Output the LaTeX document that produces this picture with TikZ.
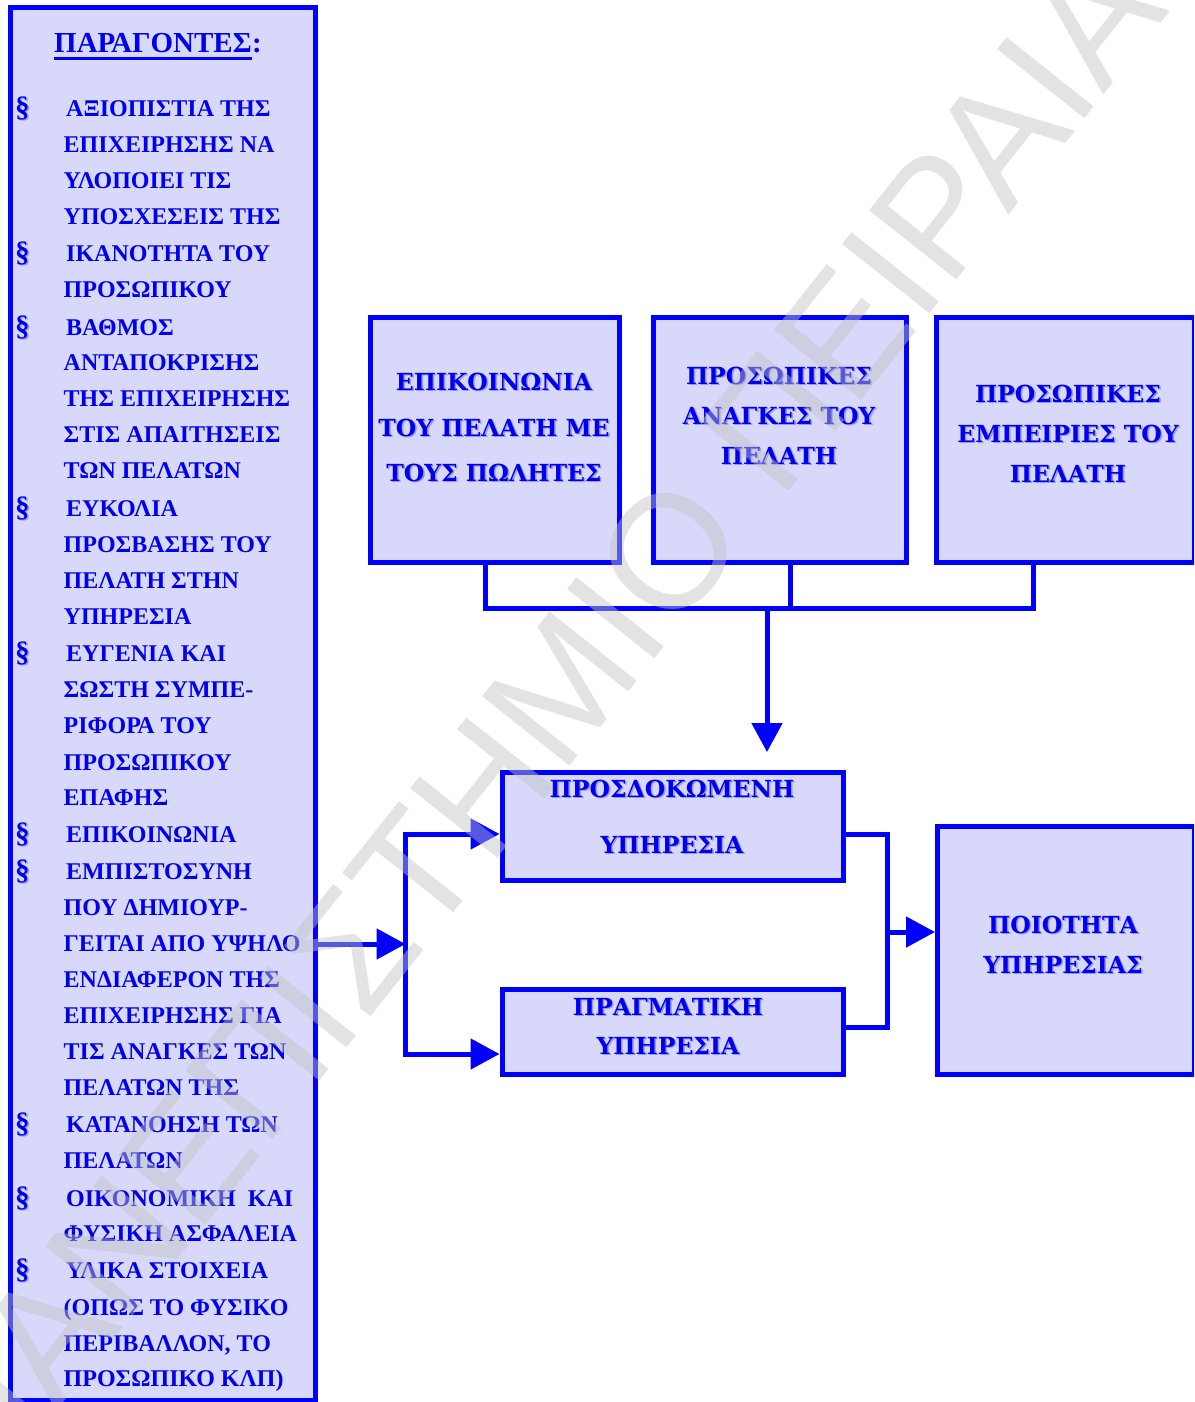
\documentclass[tikz,border=0pt]{standalone}
\usepackage{fontspec}
\setmainfont{Liberation Serif}
\newfontfamily\boxfont{DejaVu Serif}
\newfontfamily\markfont{Liberation Sans}
\usetikzlibrary{arrows.meta,calc}

\definecolor{frameblue}{RGB}{0,0,255}
\definecolor{inkblue}{RGB}{0,0,238}
\definecolor{panelfill}{RGB}{216,216,250}
\definecolor{shadowblue}{RGB}{150,150,255}
\definecolor{markgray}{RGB}{195,195,195}

% one line of box text, with a light offset shadow underneath
\newcommand{\boxline}[4]{%
  \node[boxtxt,text=shadowblue] at ($(#2,#3)+(1.5,1.5)$) {#4};
  \node[boxtxt] (#1) at (#2,#3) {#4};}

\begin{document}
\begin{tikzpicture}[x=1pt,y=-1pt,
  frame/.style={rectangle,draw=frameblue,fill=panelfill,line width=5pt,inner sep=0pt},
  link/.style={draw=frameblue,line width=5pt},
  arr/.style={link,-{Triangle[length=29pt,width=30pt]}},
  item/.style={anchor=base west,inner sep=0pt,text=inkblue,
    font={\fontsize{24}{24}\selectfont\bfseries}},
  bullet/.style={anchor=base west,inner sep=0pt,text=inkblue,
    font={\fontsize{29}{29}\selectfont\bfseries}},
  headline/.style={anchor=base west,inner sep=0pt,text=inkblue,
    font={\fontsize{29}{29}\selectfont\bfseries}},
  boxtxt/.style={anchor=base,inner sep=0pt,text=inkblue,
    font={\fontsize{23.5}{24}\boxfont\bfseries}}]

\useasboundingbox (0,0) rectangle (1194,1402);
\clip (0,0) rectangle (1194,1402);
\fill[white] (0,0) rectangle (1194,1402);

% ---------- factors panel ----------
\node[frame,minimum width=305pt,minimum height=1392.5pt] (panel) at (163,703.75) {};

\node[headline] (title) at (54,53) {ΠΑΡΑΓΟΝΤΕΣ};
\node[headline,anchor=base west] (colon) at (title.base east) {:};
\draw[frameblue,line width=3pt] ($(title.base west)+(0,5.5)$) -- ($(title.base east)+(0,5.5)$);

\foreach \x/\y/\t [count=\i] in {
  66/116.7/ΑΞΙΟΠΙΣΤΙΑ ΤΗΣ,
  63.5/152.7/ΕΠΙΧΕΙΡΗΣΗΣ ΝΑ,
  63.5/188.3/ΥΛΟΠΟΙΕΙ ΤΙΣ,
  63.5/224/ΥΠΟΣΧΕΣΕΙΣ ΤΗΣ,
  66/261.7/ΙΚΑΝΟΤΗΤΑ ΤΟΥ,
  63.5/297.3/ΠΡΟΣΩΠΙΚΟΥ,
  66/335/ΒΑΘΜΟΣ,
  63.5/370.7/ΑΝΤΑΠΟΚΡΙΣΗΣ,
  63.5/406/ΤΗΣ ΕΠΙΧΕΙΡΗΣΗΣ,
  63.5/442.7/ΣΤΙΣ ΑΠΑΙΤΗΣΕΙΣ,
  63.5/478.5/ΤΩΝ ΠΕΛΑΤΩΝ,
  66/516/ΕΥΚΟΛΙΑ,
  63.5/552.7/ΠΡΟΣΒΑΣΗΣ ΤΟΥ,
  63.5/588.3/ΠΕΛΑΤΗ ΣΤΗΝ,
  63.5/624/ΥΠΗΡΕΣΙΑ,
  66/661/ΕΥΓΕΝΙΑ ΚΑΙ,
  63.5/697.3/ΣΩΣΤΗ ΣΥΜΠΕ-,
  63.5/733.3/ΡΙΦΟΡΑ ΤΟΥ,
  63.5/770/ΠΡΟΣΩΠΙΚΟΥ,
  63.5/805.5/ΕΠΑΦΗΣ,
  66/842.7/ΕΠΙΚΟΙΝΩΝΙΑ,
  66/879.3/ΕΜΠΙΣΤΟΣΥΝΗ,
  63.5/915/ΠΟΥ ΔΗΜΙΟΥΡ-,
  63.5/951.7/ΓΕΙΤΑΙ ΑΠΟ ΥΨΗΛΟ,
  63.5/987.3/ΕΝΔΙΑΦΕΡΟΝ ΤΗΣ,
  63.5/1023.3/ΕΠΙΧΕΙΡΗΣΗΣ ΓΙΑ,
  63.5/1059.3/ΤΙΣ ΑΝΑΓΚΕΣ ΤΩΝ,
  63.5/1095/ΠΕΛΑΤΩΝ ΤΗΣ,
  66/1132.7/ΚΑΤΑΝΟΗΣΗ ΤΩΝ,
  63.5/1168.3/ΠΕΛΑΤΩΝ,
  66/1206/{ΟΙΚΟΝΟΜΙΚΗ\ \ ΚΑΙ},
  63.5/1241.7/ΦΥΣΙΚΗ ΑΣΦΑΛΕΙΑ,
  66/1278.3/ΥΛΙΚΑ ΣΤΟΙΧΕΙΑ,
  63.5/1315/(ΟΠΩΣ ΤΟ ΦΥΣΙΚΟ,
  63.5/1351.7/{ΠΕΡΙΒΑΛΛΟΝ, ΤΟ},
  63.5/1386.7/ΠΡΟΣΩΠΙΚΟ ΚΛΠ)}
  \node[item] (ln\i) at (\x,\y) {\t};

% section-sign bullets, with a faint shadow
\foreach \y [count=\i] in {116.7,261.7,335,516,661,842.7,879.3,1132.7,1206,1278.3} {
  \node[bullet,text=shadowblue] at (16.5,\y+1.2) {§};
  \node[bullet] (bul\i) at (15,\y) {§};
}

% ---------- boxes ----------
\node[frame,minimum width=249pt,minimum height=245pt] (boxA) at (495,440) {};
\node[frame,minimum width=253pt,minimum height=245pt] (boxB) at (780,440) {};
\node[frame,minimum width=257.5pt,minimum height=245pt] (boxC) at (1065.25,440) {};
\node[frame,minimum width=341.5pt,minimum height=108pt] (boxD) at (672.75,826.5) {};
\node[frame,minimum width=341.5pt,minimum height=85pt] (boxE) at (672.75,1032) {};
\node[frame,minimum width=256.5pt,minimum height=248pt] (boxF) at (1065.75,950.5) {};

\boxline{a1}{494}{390}{ΕΠΙΚΟΙΝΩΝΙΑ}
\boxline{a2}{494}{436}{ΤΟΥ ΠΕΛΑΤΗ ΜΕ}
\boxline{a3}{494}{481}{ΤΟΥΣ ΠΩΛΗΤΕΣ}
\boxline{b1}{779}{384}{ΠΡΟΣΩΠΙΚΕΣ}
\boxline{b2}{779}{424}{ΑΝΑΓΚΕΣ ΤΟΥ}
\boxline{b3}{779}{464}{ΠΕΛΑΤΗ}
\boxline{c1}{1068}{402}{ΠΡΟΣΩΠΙΚΕΣ}
\boxline{c2}{1068}{442}{ΕΜΠΕΙΡΙΕΣ ΤΟΥ}
\boxline{c3}{1068}{482}{ΠΕΛΑΤΗ}
\boxline{d1}{672}{797}{ΠΡΟΣΔΟΚΩΜΕΝΗ}
\boxline{d2}{672}{853}{ΥΠΗΡΕΣΙΑ}
\boxline{e1}{668}{1015}{ΠΡΑΓΜΑΤΙΚΗ}
\boxline{e2}{668}{1054}{ΥΠΗΡΕΣΙΑ}
\boxline{f1}{1063}{933}{ΠΟΙΟΤΗΤΑ}
\boxline{f2}{1063}{973}{ΥΠΗΡΕΣΙΑΣ}

% ---------- connectors ----------
\coordinate (jA) at (485,608);
\coordinate (jB) at (790,608);
\coordinate (jC) at (1033,608);
\coordinate (jM) at (767,608);
\coordinate (tipD) at (767,752);
\draw[link] (boxA.south -| jA) -- (jA) -- (jC) -- (boxC.south -| jC);
\draw[link] (boxB.south -| jB) -- (jB);
\draw[arr] (jM) -- (tipD);

\coordinate (vt) at (405.5,834);
\coordinate (vm) at (405.5,944);
\coordinate (vb) at (405.5,1054);
\draw[arr] (panel.east |- vm) -- (vm);
\draw[arr] (vb) -- (vt) -- (boxD.west |- vt);
\draw[arr] (vt) -- (vb) -- (boxE.west |- vb);

\coordinate (rt) at (887,834);
\coordinate (rm) at (887,932);
\coordinate (rb) at (887,1027);
\draw[link] (boxD.east |- rt) -- (rt) -- (rb) -- (boxE.east |- rb);
\draw[arr] (rm) -- (boxF.west |- rm);

% ---------- watermark ----------
\node[anchor=base west,inner sep=0pt,rotate=51.5,text=markgray,text opacity=0.45,
  font={\fontsize{162}{162}\markfont}] (mark) at (-16,1503) {ΠΑΝΕΠΙΣΤΗΜΙΟ ΠΕΙΡΑΙΑ};
\end{tikzpicture}
\end{document}
